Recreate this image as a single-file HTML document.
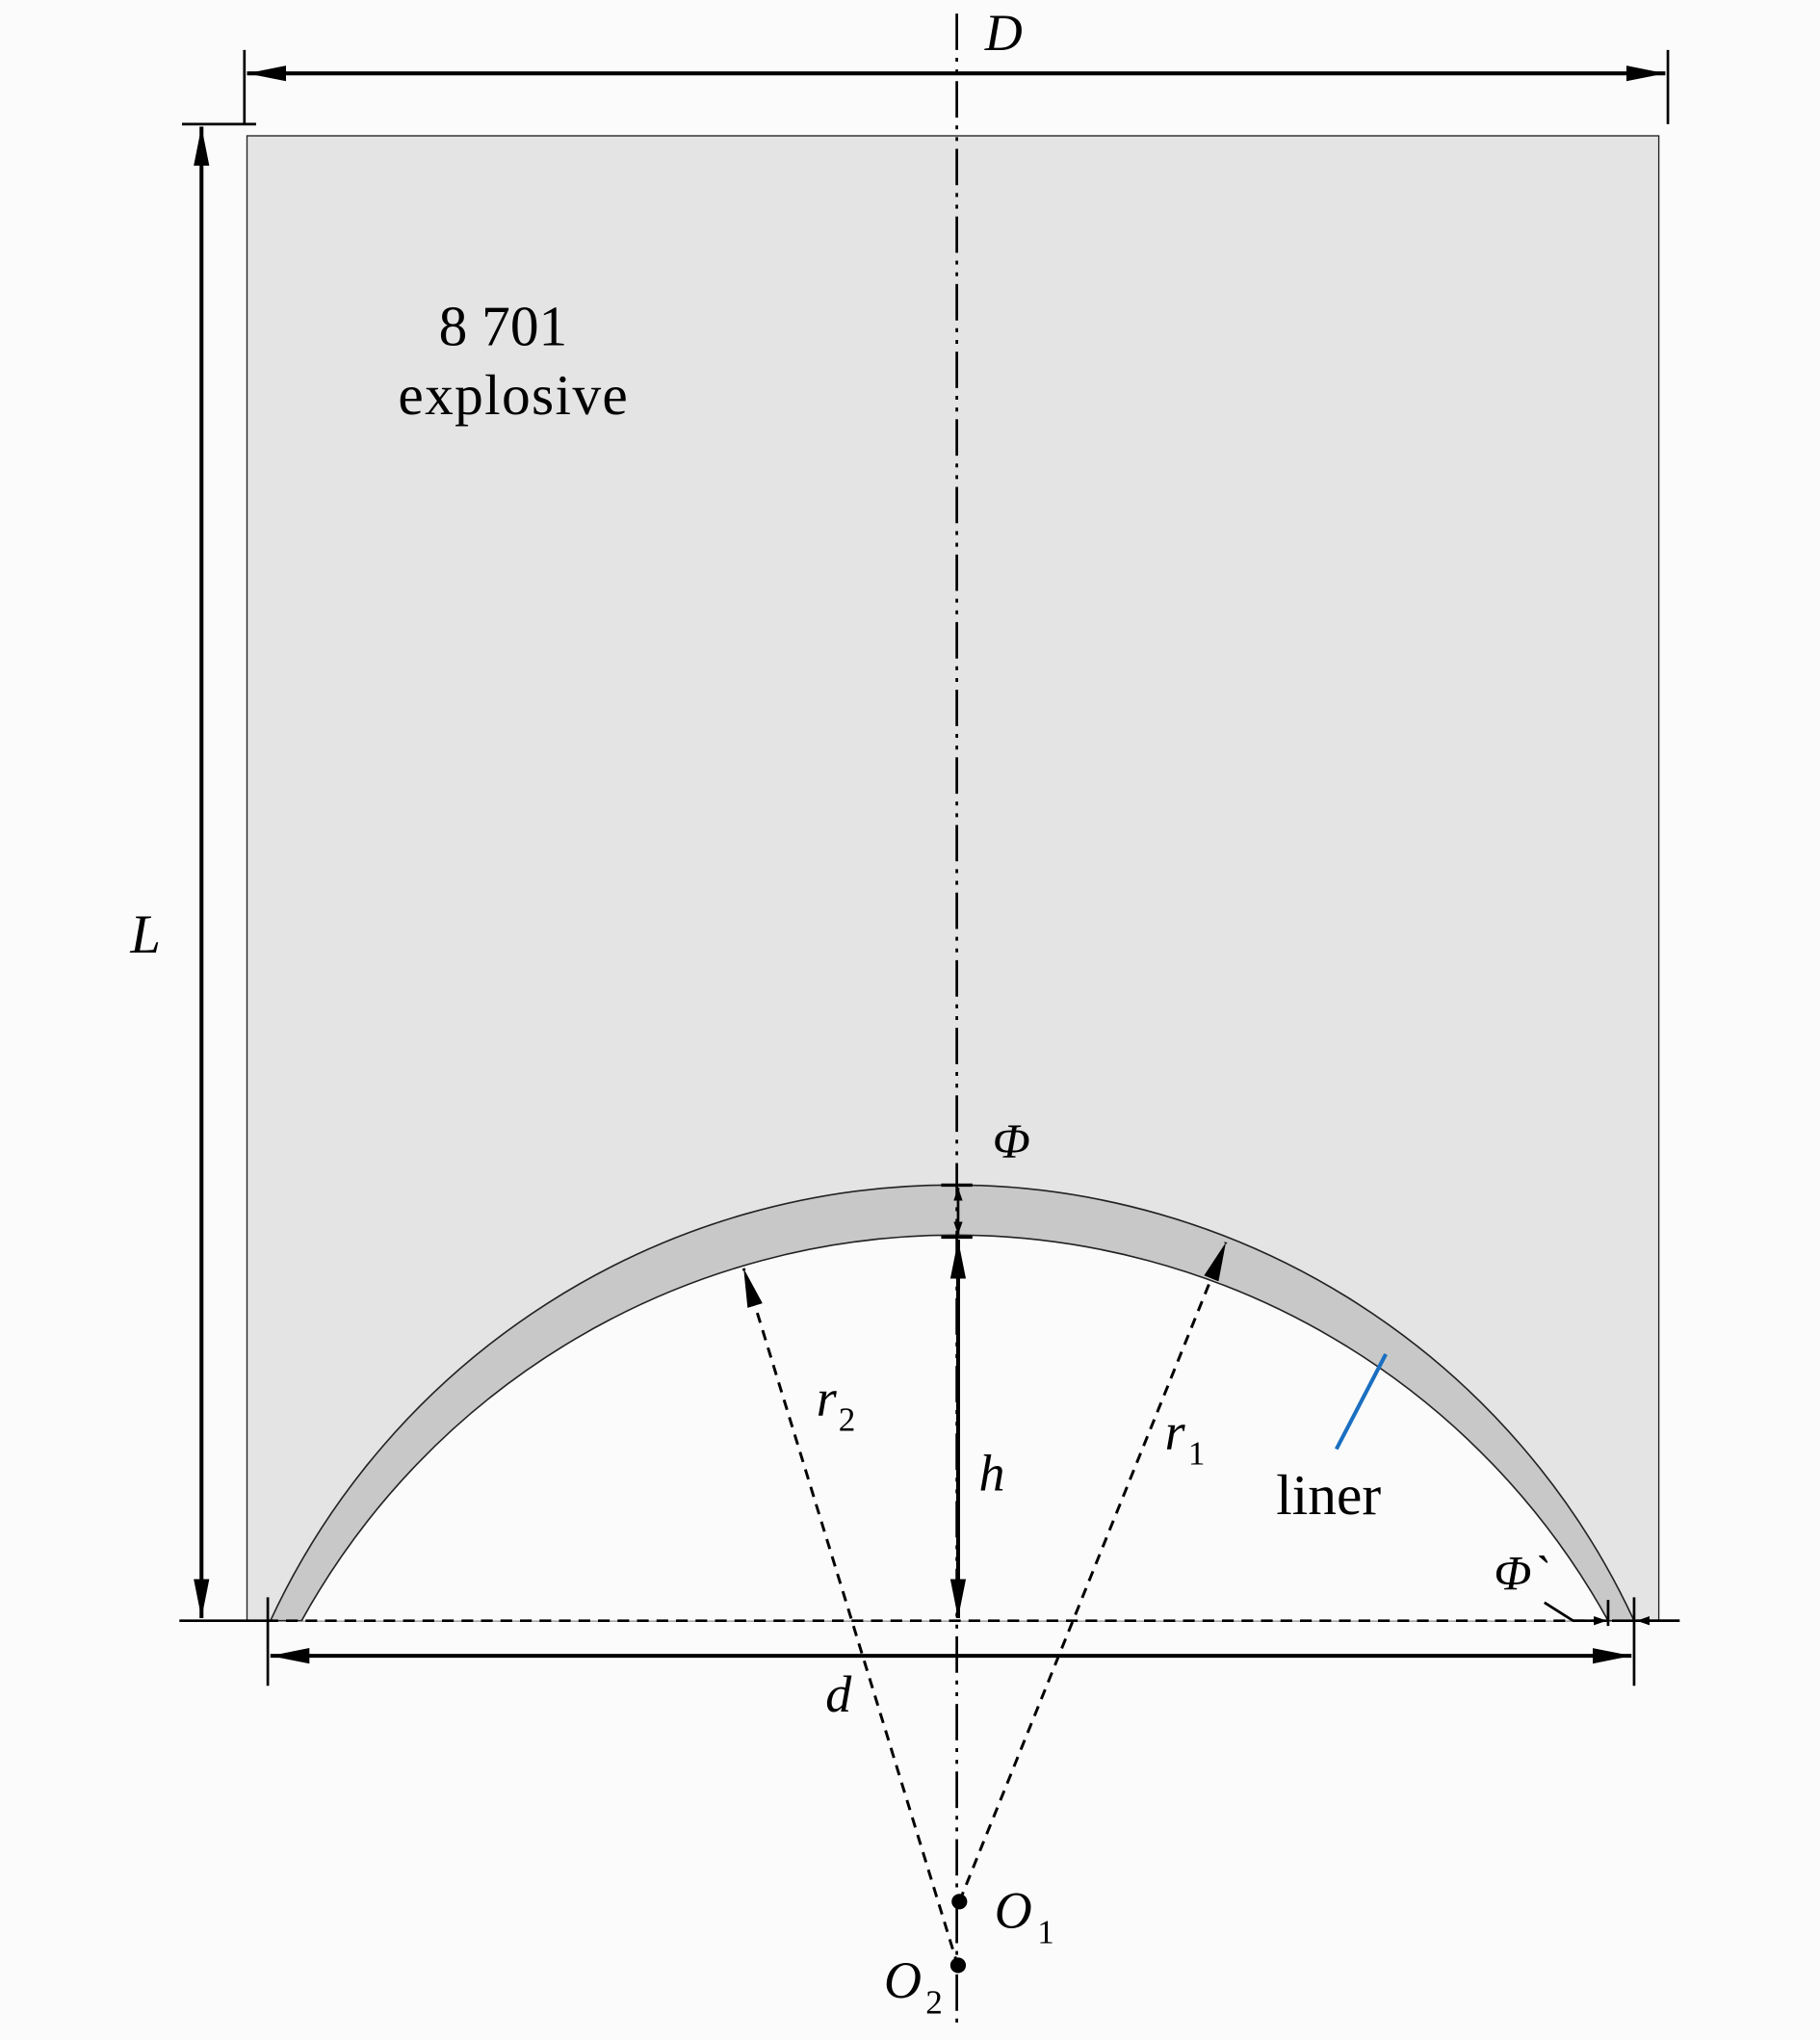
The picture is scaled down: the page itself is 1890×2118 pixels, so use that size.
<!DOCTYPE html>
<html><head><style>html,body{margin:0;padding:0;background:#fbfbfb;}svg{display:block}</style></head>
<body>
<svg width="1890" height="2118" viewBox="0 0 1400 1568" xmlns="http://www.w3.org/2000/svg" font-family="'Liberation Serif', serif">
<defs>
<marker id="a" viewBox="0 0 10 10" refX="10" refY="5" markerWidth="10" markerHeight="10" markerUnits="userSpaceOnUse" orient="auto-start-reverse"><path d="M0,1.5 L10,5 L0,8.5 z" fill="#000"/></marker>
<marker id="b" viewBox="0 0 30 12" refX="30" refY="6" markerWidth="30" markerHeight="12" markerUnits="userSpaceOnUse" orient="auto-start-reverse"><path d="M0,0 L30,6 L0,12 z" fill="#000"/></marker>
</defs>
<rect x="0" y="0" width="1400" height="1568" fill="#fbfbfb"/>
<rect x="190" y="104" width="1086" height="1142" fill="#e4e4e4" stroke="#222" stroke-width="1"/>
<path d="M232,1246 A574,574 0 0 1 1237,1246 Z" fill="#fbfbfb"/>
<path d="M208,1246 A578,578 0 0 1 1257,1246 L1237,1246 A574,574 0 0 0 232,1246 Z" fill="#c8c8c8" stroke="#222" stroke-width="1.2"/>
<line x1="736" y1="10" x2="736" y2="1560" stroke="#000" stroke-width="2" stroke-dasharray="28,6,3,6,3,6"/>
<line x1="188" y1="38" x2="188" y2="95" stroke="#000" stroke-width="2"/>
<line x1="1283" y1="38" x2="1283" y2="95" stroke="#000" stroke-width="2"/>
<line x1="190" y1="56" x2="1281" y2="56" stroke="#000" stroke-width="3" marker-start="url(#b)" marker-end="url(#b)"/>
<text x="772" y="38" font-size="40" font-style="italic" text-anchor="middle">D</text>
<line x1="140" y1="95" x2="197" y2="95" stroke="#000" stroke-width="2"/>
<line x1="138" y1="1246" x2="205" y2="1246" stroke="#000" stroke-width="2"/>
<line x1="155" y1="97" x2="155" y2="1244" stroke="#000" stroke-width="3" marker-start="url(#b)" marker-end="url(#b)"/>
<text x="112" y="732" font-size="42" font-style="italic" text-anchor="middle">L</text>
<text x="387" y="265" font-size="44" text-anchor="middle">8 701</text>
<text x="395" y="318" font-size="44" text-anchor="middle" letter-spacing="1">explosive</text>
<line x1="724" y1="911" x2="748" y2="911" stroke="#000" stroke-width="2.5"/>
<line x1="724" y1="951" x2="748" y2="951" stroke="#000" stroke-width="2.5"/>
<line x1="737" y1="913" x2="737" y2="949" stroke="#000" stroke-width="2" marker-start="url(#a)" marker-end="url(#a)"/>
<text x="778" y="890" font-size="38" font-style="italic" text-anchor="middle">Φ</text>
<line x1="737" y1="953" x2="737" y2="1244" stroke="#000" stroke-width="3" marker-start="url(#b)" marker-end="url(#b)"/>
<text x="763" y="1146" font-size="40" font-style="italic" text-anchor="middle">h</text>
<line x1="205" y1="1246" x2="1240" y2="1246" stroke="#000" stroke-width="2" stroke-dasharray="9,6"/>
<line x1="1240" y1="1246" x2="1292" y2="1246" stroke="#000" stroke-width="2"/>
<line x1="206" y1="1228" x2="206" y2="1296" stroke="#000" stroke-width="2"/>
<line x1="1257" y1="1228" x2="1257" y2="1296" stroke="#000" stroke-width="2"/>
<line x1="1237" y1="1230" x2="1237" y2="1250" stroke="#000" stroke-width="2"/>
<line x1="208" y1="1273" x2="1255" y2="1273" stroke="#000" stroke-width="3" marker-start="url(#b)" marker-end="url(#b)"/>
<text x="645" y="1316" font-size="40" font-style="italic" text-anchor="middle">d</text>
<line x1="737" y1="1512" x2="572" y2="975" stroke="#000" stroke-width="2.2" stroke-dasharray="8,6" marker-end="url(#b)"/>
<line x1="738" y1="1462" x2="943" y2="955" stroke="#000" stroke-width="2.2" stroke-dasharray="8,6" marker-end="url(#b)"/>
<text x="628" y="1088" font-size="40" font-style="italic">r</text><text x="645" y="1100" font-size="26">2</text>
<text x="896" y="1114" font-size="40" font-style="italic">r</text><text x="914" y="1126" font-size="26">1</text>
<circle cx="738" cy="1462" r="6" fill="#000"/>
<circle cx="737" cy="1511" r="6" fill="#000"/>
<text x="765" y="1482" font-size="40" font-style="italic">O</text><text x="798" y="1494" font-size="26">1</text>
<text x="680" y="1536" font-size="40" font-style="italic">O</text><text x="712" y="1548" font-size="26">2</text>
<line x1="1028" y1="1114" x2="1066" y2="1041" stroke="#1a6fc0" stroke-width="3"/>
<text x="1022" y="1164" font-size="44" text-anchor="middle">liner</text>
<text x="1170" y="1222" font-size="38" font-style="italic" text-anchor="middle">Φ`</text>
<polyline points="1188,1232 1210,1246 1236,1246" fill="none" stroke="#000" stroke-width="2" marker-end="url(#a)"/>
<line x1="1292" y1="1246" x2="1259" y2="1246" stroke="#000" stroke-width="2" marker-end="url(#a)"/>
</svg>
</body></html>
